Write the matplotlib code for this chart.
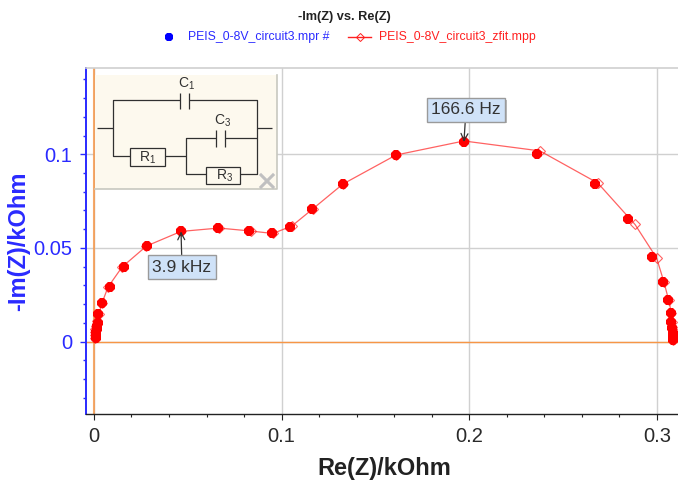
# %%
import matplotlib
matplotlib.use('Agg')
import matplotlib.pyplot as plt
from matplotlib.patches import Rectangle
from matplotlib.ticker import MultipleLocator
import matplotlib.patheffects as pe

plt.rcParams['font.family'] = ['Liberation Sans', 'DejaVu Sans']
plt.rcParams['mathtext.default'] = 'regular'

# Measured points, Re(Z) and -Im(Z) in kOhm
re_data = [0.0011, 0.0011, 0.0013, 0.0016, 0.0016, 0.0019, 0.0023, 0.0043, 0.0085, 0.0160,
           0.0283, 0.0464, 0.0661, 0.0826, 0.0949, 0.1045, 0.1162, 0.1327, 0.1610, 0.1972,
           0.2363, 0.2670, 0.2846, 0.2974, 0.3033, 0.3060, 0.3076, 0.3078, 0.3081, 0.3084,
           0.3086, 0.3086]
im_data = [0.0019, 0.0035, 0.0051, 0.0067, 0.0083, 0.0099, 0.0147, 0.0206, 0.0291, 0.0398,
           0.0510, 0.0588, 0.0606, 0.0590, 0.0577, 0.0612, 0.0708, 0.0841, 0.0996, 0.1066,
           0.1002, 0.0841, 0.0654, 0.0451, 0.0318, 0.0222, 0.0152, 0.0104, 0.0072, 0.0045,
           0.0024, 0.0008]

# Fit curve
re_fit = [0.0003, 0.0003, 0.0005, 0.0008, 0.0011, 0.0014, 0.0027, 0.0043, 0.0075, 0.0150,
          0.0280, 0.0464, 0.0666, 0.0837, 0.0954, 0.1055, 0.1166, 0.1327, 0.1610, 0.1972,
          0.2377, 0.2686, 0.2884, 0.2999, 0.3038, 0.3063, 0.3078, 0.3082, 0.3084, 0.3086,
          0.3087, 0.3088]
im_fit = [0.0019, 0.0035, 0.0051, 0.0067, 0.0085, 0.0107, 0.0147, 0.0206, 0.0291, 0.0398,
          0.0510, 0.0588, 0.0606, 0.0590, 0.0577, 0.0617, 0.0708, 0.0841, 0.0996, 0.1071,
          0.1018, 0.0846, 0.0625, 0.0446, 0.0318, 0.0222, 0.0152, 0.0104, 0.0072, 0.0045,
          0.0024, 0.0008]

x_ticks = [0, 0.1, 0.2, 0.3]
x_tick_labels = ['0', '0.1', '0.2', '0.3']
y_ticks = [0, 0.05, 0.1]
y_tick_labels = ['0', '0.05', '0.1']

title = '-Im(Z) vs. Re(Z)'
data_name = 'PEIS_0-8V_circuit3.mpr #'
fit_name = 'PEIS_0-8V_circuit3_zfit.mpp'
notes = [('166.6 Hz', 0.1972, 0.1066, 466, 110), ('3.9 kHz', 0.0464, 0.0588, 182, 267)]

BLUE = '#2a2aff'
GRID = '#d0d0d0'
ORANGE = '#f79646'

# %%
fig = plt.figure(figsize=(6.78, 4.8), dpi=100)
ax = fig.add_axes([85.7 / 678, 66 / 480, (678 - 85.7) / 678, (414 - 68.5) / 480])
ax.set_xlim(-0.0044, 0.3113)
ax.set_ylim(-0.0387, 0.1458)

ax.set_axisbelow(True)
ax.grid(True, color=GRID, lw=1.0)
ax.axhline(0, color=ORANGE, lw=1.0, zorder=1)
ax.axvline(0, color=ORANGE, lw=1.5, alpha=0.8, zorder=1)

ax.plot(re_fit, im_fit, '-D', color='#ff2020', lw=0.9, ms=5.5, mfc='none', mew=0.8, alpha=0.7, zorder=3)
ax.plot(re_data, im_data, '8', color='#ff0000', ms=7.4, mew=0, zorder=4)

ax.set_xticks(x_ticks)
ax.set_xticklabels(x_tick_labels)
ax.set_yticks(y_ticks)
ax.set_yticklabels(y_tick_labels)
ax.xaxis.set_minor_locator(MultipleLocator(0.02))
ax.yaxis.set_minor_locator(MultipleLocator(0.01))
ax.tick_params(axis='x', which='major', length=4.5, width=0.8, labelsize=14.5, pad=5, color='#222222', labelcolor='#2a2a2a')
ax.tick_params(axis='x', which='minor', length=2.5, width=0.8, color='#222222')
ax.tick_params(axis='y', which='major', length=4.5, width=1, labelsize=14.5, pad=5, color=BLUE, labelcolor=BLUE)
ax.tick_params(axis='y', which='minor', length=2.5, width=1, color=BLUE)

ax.spines['left'].set_color(BLUE)
ax.spines['left'].set_linewidth(1.4)
ax.spines['bottom'].set_color('#222222')
ax.spines['bottom'].set_linewidth(1.0)
ax.spines['top'].set_color(GRID)
ax.spines['top'].set_linewidth(1.2)
ax.spines['right'].set_visible(False)

fig.text(384 / 678, 1 - 469 / 480, 'Re(Z)/kOhm', fontsize=17, fontweight='bold', color='#222222', ha='center', va='center')
fig.text(19 / 678, 1 - 241 / 480, '-Im(Z)/kOhm', fontsize=17, fontweight='bold', color=BLUE, rotation=90, ha='center', va='center')

# Frequency call-outs
for label, x, y, box_x, box_y in notes:
    ann = ax.annotate(label, xy=(x, y), xycoords='data',
                      xytext=(box_x, 480 - box_y), textcoords='figure pixels',
                      fontsize=12.5, color='#333333', ha='center', va='center', zorder=6,
                      bbox=dict(boxstyle='square,pad=0.24', fc='#cfe2f8', ec='#9a9a9a', lw=1),
                      arrowprops=dict(arrowstyle='->', color='#333333', lw=0.9, shrinkA=0, shrinkB=0))
    ann.get_bbox_patch().set_path_effects([pe.SimplePatchShadow(offset=(1.2, -1.2), shadow_rgbFace='#aaaaaa', alpha=0.8), pe.Normal()])

# Overlay in pixel coordinates for title, legend and circuit inset
ov = fig.add_axes([0, 0, 1, 1], zorder=5)
ov.set_xlim(0, 678)
ov.set_ylim(480, 0)
ov.axis('off')

ov.text(344.5, 17, title, fontsize=9.2, fontweight='bold', color='#222222', ha='center', va='center')
ov.plot([169], [37], '8', color='#0000ff', ms=7, mew=0)
ov.text(188, 37, data_name, fontsize=8.8, color=BLUE, ha='left', va='center')
ov.plot([348, 371], [37, 37], color='#ff2020', lw=1)
ov.plot([360], [37], 'D', color='#ff2020', ms=4, mfc='none', mew=0.7)
ov.text(379, 37, fit_name, fontsize=8.8, color='#ff2020', ha='left', va='center')

ov.add_patch(Rectangle((95, 75), 182, 114, fc='#fdf9ee', ec='none', zorder=1))
ov.plot([277, 277, 95], [75, 189, 189], color='#c8c8c0', lw=1.2, zorder=2)

wire = dict(color='#303030', lw=0.9, zorder=3, solid_capstyle='butt')
ov.plot([97, 113], [128, 128], **wire)
ov.plot([257, 272], [128, 128], **wire)
ov.plot([180, 113, 113, 130], [100, 100, 156, 156], **wire)
ov.plot([189, 257, 257, 240], [100, 100, 174, 174], **wire)
ov.plot([180, 180], [93, 109], **wire)
ov.plot([189, 189], [93, 109], **wire)
ov.plot([165, 186], [156, 156], **wire)
ov.plot([216, 186, 186, 206], [138, 138, 174, 174], **wire)
ov.plot([225, 257], [138, 138], **wire)
ov.plot([216, 216], [130, 147], **wire)
ov.plot([225, 225], [130, 147], **wire)
ov.add_patch(Rectangle((130, 148), 35, 18, fc='none', ec='#303030', lw=0.9, zorder=3))
ov.add_patch(Rectangle((206, 167), 34, 17, fc='none', ec='#303030', lw=0.9, zorder=3))
for txt, tx, ty in [('C$_1$', 187, 84), ('C$_3$', 223, 121), ('R$_1$', 148, 158), ('R$_3$', 225, 176)]:
    ov.text(tx, ty, txt, fontsize=10, color='#303030', ha='center', va='center', zorder=4)
ov.plot([261, 273], [175, 187], color='#c0c0c0', lw=2.2, zorder=4)
ov.plot([261, 273], [187, 175], color='#c0c0c0', lw=2.2, zorder=4)

fig.savefig('out.png', dpi=100)
